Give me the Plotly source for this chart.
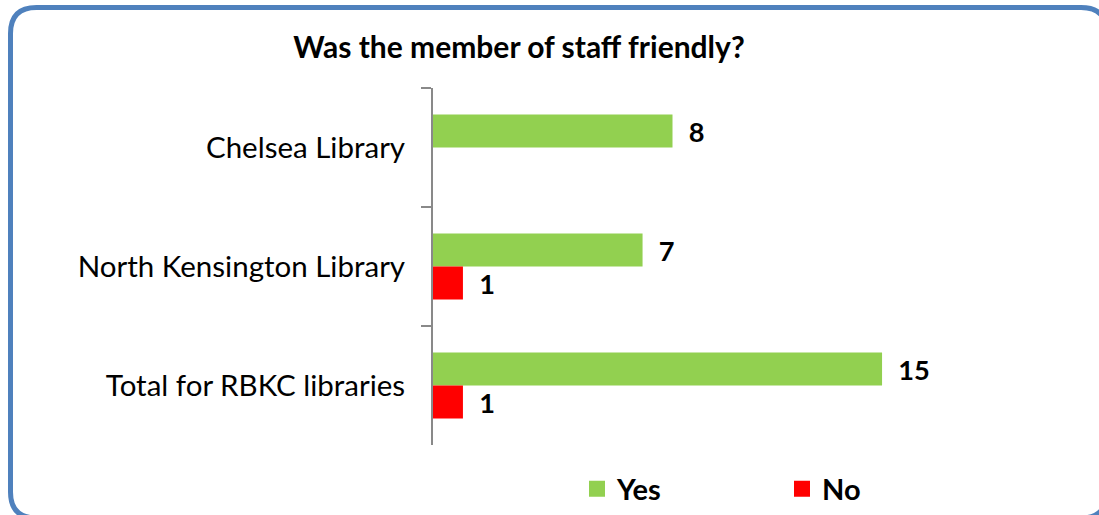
import plotly.graph_objects as go

categories = ["Chelsea Library", "North Kensington Library", "Total for RBKC libraries"]
yes_values = [8, 7, 15]
no_values = [0, 1, 1]
series_names = ["Yes", "No"]
title_text = "Was the member of staff friendly?"

GREEN = "#92D050"
RED = "#FF0000"
FONT = "Lato"

def labels(vals):
    return [("&nbsp;&nbsp;" + str(v)) if v else "" for v in vals]

fig = go.Figure()
fig.add_trace(go.Bar(
    y=categories, x=yes_values, orientation="h", name=series_names[0],
    marker=dict(color=GREEN, line=dict(width=0)),
    text=labels(yes_values), textposition="outside", cliponaxis=False,
    textfont=dict(family=FONT, size=28, color="black", weight="bold"),
    showlegend=False,
))
fig.add_trace(go.Bar(
    y=categories, x=no_values, orientation="h", name=series_names[1],
    marker=dict(color=RED, line=dict(width=0)),
    text=labels(no_values), textposition="outside", cliponaxis=False,
    textfont=dict(family=FONT, size=28, color="black", weight="bold"),
    showlegend=False,
))
# legend entries
for name, col in zip(series_names, [GREEN, RED]):
    fig.add_trace(go.Scatter(
        x=[None], y=[None], mode="markers", name=name,
        marker=dict(symbol="square", size=18, color=col),
        showlegend=True,
    ))

W, H = 1099, 515
L, R, T, B = 433, 912, 88, 445

def px(X):
    return (X - L) / (R - L)

def py(Y):
    return (B - Y) / (B - T)

x0, y0, x1, y1, r = 10.5, 7.5, 1107, 518, 26
path = (
    f"M {px(x0+r)},{py(y0)} L {px(x1-r)},{py(y0)} Q {px(x1)},{py(y0)} {px(x1)},{py(y0+r)} "
    f"L {px(x1)},{py(y1-r)} Q {px(x1)},{py(y1)} {px(x1-r)},{py(y1)} "
    f"L {px(x0+r)},{py(y1)} Q {px(x0)},{py(y1)} {px(x0)},{py(y1-r)} "
    f"L {px(x0)},{py(y0+r)} Q {px(x0)},{py(y0)} {px(x0+r)},{py(y0)} Z"
)

fig.update_layout(
    width=W, height=H,
    margin=dict(l=L, r=W - R, t=T, b=H - B, pad=0),
    paper_bgcolor="white", plot_bgcolor="white",
    barmode="group", bargap=0.445, bargroupgap=0,
    font=dict(family=FONT, color="black"),
    title=dict(text=title_text, x=519 / W, xref="container", xanchor="center",
               y=(H - 47) / H, yref="container", yanchor="middle",
               font=dict(family=FONT, size=30, color="black", weight="bold")),
    xaxis=dict(range=[0, 16], visible=False, fixedrange=True),
    yaxis=dict(autorange="reversed", showline=True, linecolor="#898989", linewidth=2,
               ticks="outside", tickson="boundaries", ticklen=10, tickcolor="#898989",
               tickwidth=2, ticklabelstandoff=20, showgrid=False, zeroline=False,
               tickfont=dict(family=FONT, size=29.5, color="black")),
    legend=dict(orientation="h", xref="container", yref="container",
                x=577 / W, xanchor="left", y=(H - 489) / H, yanchor="middle",
                entrywidth=160, entrywidthmode="pixels", itemsizing="trace",
                font=dict(family=FONT, size=29, color="black", weight="bold"),
                bgcolor="rgba(0,0,0,0)"),
    shapes=[dict(type="path", path=path, xref="paper", yref="paper",
                 line=dict(color="#4F81BD", width=5), fillcolor="rgba(0,0,0,0)",
                 layer="below")],
)

fig.write_html("out.html", config={"displayModeBar": False},
               post_script="document.body.style.margin='0';")
